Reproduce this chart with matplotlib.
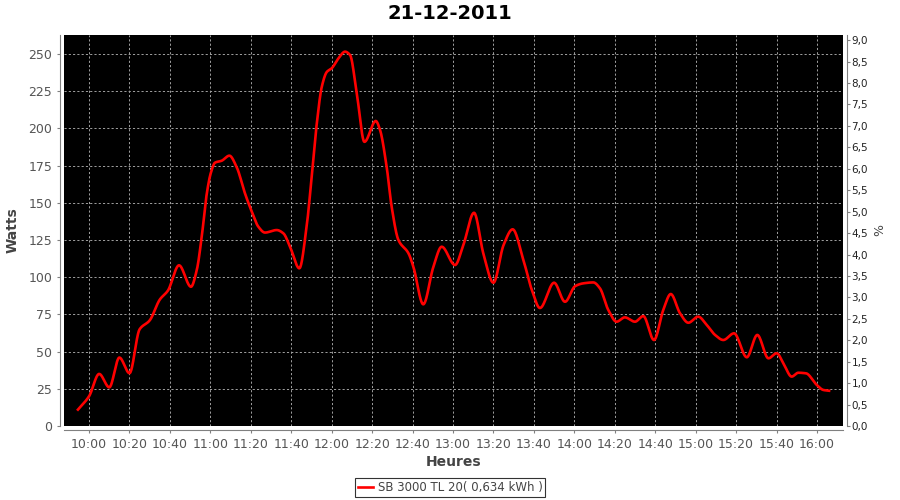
import numpy as np
import matplotlib
matplotlib.use("Agg")
import matplotlib.pyplot as plt
from matplotlib.ticker import FuncFormatter, MultipleLocator

# minutes after 10:00 and power (W)
minutes = [-5.5, 0, 5, 10, 15, 20, 25, 30, 35, 39, 44.5, 50.4, 53.3, 55.7, 58.2,
           60.2, 62.3, 65.6, 69.4, 73, 77.2, 80.5, 83.7, 87, 92.8, 96.1, 99.4,
           104, 107.6, 110.1, 112.6, 115.1, 117.6, 120, 123.3, 126.6, 129.1,
           132.4, 136.2, 141.8, 143.9, 147.2, 149.7, 153, 158, 160.4, 165.3,
           170.3, 174.4, 181, 185.1, 190.4, 195, 200, 205, 209.5, 214.8, 219,
           223, 230, 235.4, 240.4, 244.5, 249.4, 252.7, 256.8, 260.9, 265, 270,
           274.1, 279.4, 284, 287.7, 292.3, 296.4, 301.3, 305.5, 309.6, 313.7,
           319, 325.3, 330.5, 336, 340.1, 343.4, 347.5, 350.8, 354.6, 359.9,
           363.2, 366]
watts = [11, 20, 35, 26, 46, 35.5, 65, 71, 85, 91, 108, 93.6, 105, 127, 156,
         170, 177, 178.3, 181.7, 174, 156, 144, 134, 130, 131.7, 129.5, 120.5,
         106, 134, 167.5, 203, 228, 238, 240.4, 247, 251.6, 249.3,
         223.6, 191, 205, 199, 174, 147, 125, 116, 107, 81.8,
         107, 120.5, 108.2, 121.6, 143.3, 116, 96.3, 121.6, 132.2, 111.6, 91.4,
         79.3, 96.3, 83.5, 94, 95.9, 96.5, 92.5, 78, 70.1, 73, 70.1,
         73.9, 57.8, 78, 88.7, 75.7, 69.4, 73.5, 67.9, 61.2, 57.8,
         62.3, 46.2, 61.2, 45.5, 48.9, 42.1, 33.2, 35.8, 35.4, 27.6,
         24.2, 23.7]

title = "21-12-2011"
series_label = "SB 3000 TL 20( 0,634 kWh )"


def smooth(x, y, n=2000):
    # shape-preserving cubic (like a spline renderer), drawn through the points
    x = np.asarray(x, float)
    y = np.asarray(y, float)
    h = np.diff(x)
    d = np.diff(y) / h
    m = np.zeros_like(y)
    for k in range(1, len(y) - 1):
        if d[k - 1] * d[k] > 0:
            w1 = 2 * h[k] + h[k - 1]
            w2 = h[k] + 2 * h[k - 1]
            m[k] = (w1 + w2) / (w1 / d[k - 1] + w2 / d[k])
    m[0] = d[0]
    m[-1] = d[-1]
    xs = np.linspace(x[0], x[-1], n)
    i = np.clip(np.searchsorted(x, xs) - 1, 0, len(x) - 2)
    t = (xs - x[i]) / h[i]
    h00 = 2 * t**3 - 3 * t**2 + 1
    h10 = t**3 - 2 * t**2 + t
    h01 = -2 * t**3 + 3 * t**2
    h11 = t**3 - t**2
    ys = h00 * y[i] + h10 * h[i] * m[i] + h01 * y[i + 1] + h11 * h[i] * m[i + 1]
    return xs, ys


fig = plt.figure(figsize=(9, 5), dpi=100)
ax = fig.add_axes([0.0711, 0.148, 0.8656, 0.782])
ax.set_facecolor("black")

xs, ys = smooth(minutes, watts)
line, = ax.plot(xs, ys, color="#ff0000", lw=1.9, label=series_label)

ax.set_xlim(-12.4, 372.9)
ax.set_ylim(0, 262.8)
ax.xaxis.set_major_locator(MultipleLocator(20))
ax.yaxis.set_major_locator(MultipleLocator(25))
ax.xaxis.set_major_formatter(FuncFormatter(
    lambda v, p: "%d:%02d" % (10 + int(v) // 60, int(v) % 60)))
ax.grid(True, color="#a0a0a0", ls=(0, (2.2, 2.2)), lw=0.7)

gray = "#808080"
for s in ["top", "right"]:
    ax.spines[s].set_visible(False)
for s in ["left", "bottom"]:
    ax.spines[s].set_position(("outward", 3))
    ax.spines[s].set_color(gray)
ax.tick_params(colors=gray, labelcolor="#555555", length=2, labelsize=9)

ax.set_xlabel("Heures", fontsize=10, fontweight="bold", color="#444444", labelpad=3)
ax.set_ylabel("Watts", fontsize=10, fontweight="bold", color="#444444", labelpad=6)

ax2 = ax.twinx()
ax2.set_ylim(0, 9.12)
ax2.yaxis.set_major_locator(MultipleLocator(0.5))
ax2.yaxis.set_major_formatter(FuncFormatter(lambda v, p: ("%.1f" % v).replace(".", ",")))
for s in ["top", "left", "bottom"]:
    ax2.spines[s].set_visible(False)
ax2.spines["right"].set_position(("outward", 3))
ax2.spines["right"].set_color(gray)
ax2.tick_params(colors=gray, labelcolor="#222222", length=2, labelsize=7.5, pad=1)
ax2.set_ylabel("%", fontsize=9, color="#444444", labelpad=4)

fig.suptitle(title, fontsize=14, fontweight="bold", y=0.992)

leg = fig.legend(handles=[line], loc="lower center", bbox_to_anchor=(0.5, -0.006),
                 frameon=True, fancybox=False, edgecolor="black", fontsize=8.5,
                 handlelength=1.3, handletextpad=0.4, borderpad=0.25)
leg.get_frame().set_linewidth(0.8)
for t in leg.get_texts():
    t.set_color("#444444")

fig.savefig("out.png", dpi=100)
